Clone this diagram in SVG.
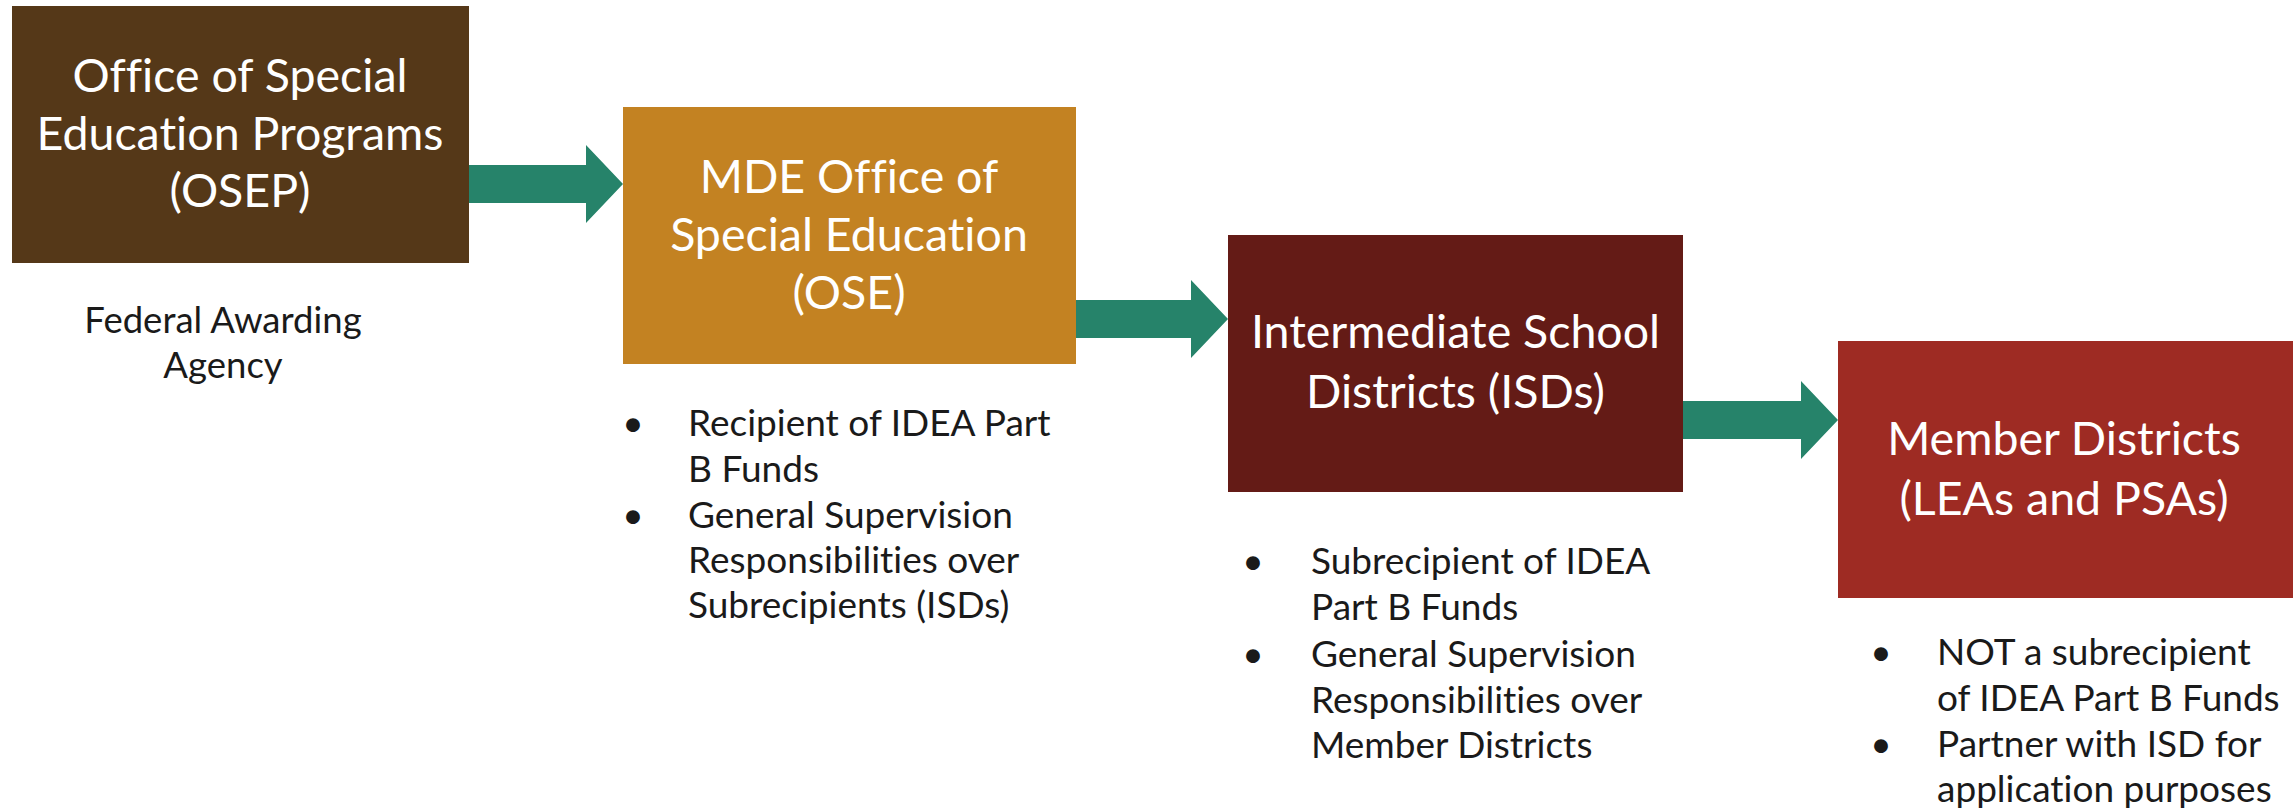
<svg xmlns="http://www.w3.org/2000/svg" width="2293" height="809" viewBox="0 0 2293 809">
<style>
  text { font-family: Lato, "Open Sans", "Liberation Sans", sans-serif; font-variant-ligatures: none; }
  .title { fill: #ffffff; font-size: 46.5px; text-anchor: middle; }
  .body { fill: #1a1a1a; font-size: 37px; }
  .cap { fill: #1a1a1a; font-size: 36.5px; text-anchor: middle; }
  .dot { fill: #1a1a1a; font-size: 37px; text-anchor: middle; }
  .arrow { fill: #26836a; }
</style>
<rect width="2293" height="809" fill="#ffffff"/>
<g id="connectors">
  <polygon class="arrow" points="469,165 586,165 586,145 623,184 586,223 586,203 469,203"/>
  <polygon class="arrow" points="1076,300 1191,300 1191,280 1228,319 1191,358 1191,338 1076,338"/>
  <polygon class="arrow" points="1683,401 1801,401 1801,381 1838,420 1801,459 1801,439 1683,439"/>
</g>
<g id="osep">
  <rect x="12" y="6" width="457" height="257" fill="#553818"/>
  <text class="title" x="240" y="92">Office of Special</text>
  <text class="title" x="240" y="150">Education Programs</text>
  <text class="title" x="240" y="207">(OSEP)</text>
  <text class="cap" x="223" y="333">Federal Awarding</text>
  <text class="cap" x="223" y="378">Agency</text>
</g>
<g id="ose">
  <rect x="623" y="107" width="453" height="257" fill="#c38222"/>
  <text class="title" x="849" y="193">MDE Office of</text>
  <text class="title" x="849" y="251">Special Education</text>
  <text class="title" x="849" y="309">(OSE)</text>
  <text class="dot" x="633" y="436">•</text>
  <text class="body" x="688" y="436">Recipient of IDEA Part</text>
  <text class="body" x="688" y="482">B Funds</text>
  <text class="dot" x="633" y="528">•</text>
  <text class="body" x="688" y="528">General Supervision</text>
  <text class="body" x="688" y="573">Responsibilities over</text>
  <text class="body" x="688" y="618">Subrecipients (ISDs)</text>
</g>
<g id="isd">
  <rect x="1228" y="235" width="455" height="257" fill="#641b16"/>
  <text class="title" x="1455.5" y="348">Intermediate School</text>
  <text class="title" x="1455.5" y="408">Districts (ISDs)</text>
  <text class="dot" x="1253" y="574">•</text>
  <text class="body" x="1311" y="574">Subrecipient of IDEA</text>
  <text class="body" x="1311" y="620">Part B Funds</text>
  <text class="dot" x="1253" y="667">•</text>
  <text class="body" x="1311" y="667">General Supervision</text>
  <text class="body" x="1311" y="713">Responsibilities over</text>
  <text class="body" x="1311" y="758">Member Districts</text>
</g>
<g id="member">
  <rect x="1838" y="341" width="455" height="257" fill="#9e2b23"/>
  <text class="title" x="2064" y="455">Member Districts</text>
  <text class="title" x="2064" y="515">(LEAs and PSAs)</text>
  <text class="dot" x="1881" y="665">•</text>
  <text class="body" x="1937" y="665">NOT a subrecipient</text>
  <text class="body" x="1937" y="711">of IDEA Part B Funds</text>
  <text class="dot" x="1881" y="757">•</text>
  <text class="body" x="1937" y="757">Partner with ISD for</text>
  <text class="body" x="1937" y="802">application purposes</text>
</g>
</svg>
